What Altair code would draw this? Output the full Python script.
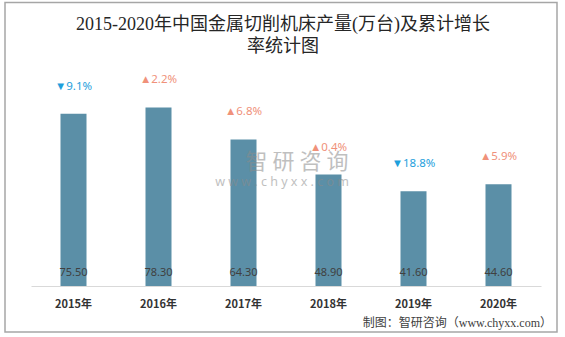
import altair as alt
import pandas as pd

years = ["2015年", "2016年", "2017年", "2018年", "2019年", "2020年"]
output = [75.50, 78.30, 64.30, 48.90, 41.60, 44.60]
growth = [-9.1, 2.2, 6.8, 0.4, -18.8, 5.9]
title_lines = ["2015-2020年中国金属切削机床产量(万台)及累计增长", "率统计图"]
source_text = "制图：智研咨询（www.chyxx.com）"
watermark_cn = "智 研 咨 询"
watermark_url = "w w w . c h y x x . c o m"

df = pd.DataFrame({"year": years, "value": output, "growth": growth})
one = pd.DataFrame({"k": [0]})

CJK = "Noto Sans CJK SC"

x_enc = alt.X(
    "year:N",
    sort=years,
    title=None,
    scale=alt.Scale(paddingInner=0.694, paddingOuter=0.347),
    axis=alt.Axis(
        labelAngle=0,
        labelFont=CJK,
        labelFontWeight="bold",
        labelFontSize=11,
        labelColor="#333333",
        labelPadding=12,
        ticks=False,
        domainColor="#d9d9d9",
        domainWidth=1,
        grid=False,
    ),
)
y_enc = alt.Y("value:Q", scale=alt.Scale(domain=[0, 100]), axis=None)

base = alt.Chart(df)

bars = base.mark_bar(color="#5b8fa7").encode(x=x_enc, y=y_enc)

values = base.mark_text(
    font="Noto Sans", fontSize=11, color="#404040", baseline="middle", dy=-13
).encode(x=alt.X("year:N", sort=years), y=alt.datum(0), text=alt.Text("value:Q", format=".2f"))

growth_lbl = base.transform_calculate(
    lab="(datum.growth < 0 ? '▼' : '▲') + format(abs(datum.growth), '.1f') + '%'"
).mark_text(font="Noto Sans", fontSize=11.5, baseline="middle", dy=-27).encode(
    x=alt.X("year:N", sort=years),
    y="value:Q",
    text="lab:N",
    color=alt.condition("datum.growth < 0", alt.value("#1ea0dc"), alt.value("#f0917a")),
)

border = alt.Chart(one).mark_rect(fill=None, stroke="#a6a6a6", strokeWidth=1.5).encode(
    x=alt.value(-26), x2=alt.value(526), y=alt.value(-55.5), y2=alt.value(274)
)

t1 = alt.Chart(one).mark_text(
    font="Liberation Serif, " + CJK, fontSize=18, color="#262626", baseline="middle", align="center"
).encode(x=alt.value(252), y=alt.value(-33.5), text=alt.value(title_lines[0]))
t2 = alt.Chart(one).mark_text(
    font="Liberation Serif, " + CJK, fontSize=18, color="#262626", baseline="middle", align="center"
).encode(x=alt.value(252), y=alt.value(-11), text=alt.value(title_lines[1]))

src = alt.Chart(one).mark_text(
    font="Liberation Serif, " + CJK, fontSize=12, color="#404040", baseline="middle", align="right"
).encode(x=alt.value(521), y=alt.value(264.5), text=alt.value(source_text))

wm1 = alt.Chart(one).mark_text(
    font=CJK, fontSize=22, color="#8c8c8c", opacity=0.55, baseline="middle", align="center"
).encode(x=alt.value(266), y=alt.value(104), text=alt.value(watermark_cn))
wm2 = alt.Chart(one).mark_text(
    font="Noto Sans", fontSize=12.5, color="#8c8c8c", opacity=0.55, baseline="middle", align="center"
).encode(x=alt.value(251), y=alt.value(124), text=alt.value(watermark_url))

chart = alt.layer(border, t1, t2, bars, values, growth_lbl, wm1, wm2, src).properties(
    width=510,
    height=228,
    autosize=alt.AutoSizeParams(type="none"),
    padding={"left": 31, "top": 58, "right": 24, "bottom": 51},
    background="white",
).configure_view(stroke=None)

chart.save("out.html", embed_options={"renderer": "svg", "actions": False})
